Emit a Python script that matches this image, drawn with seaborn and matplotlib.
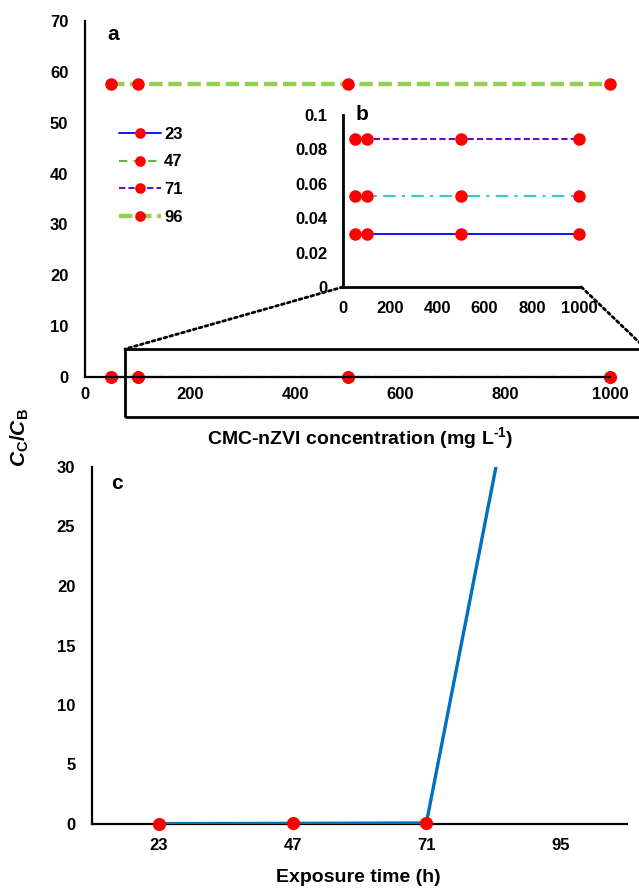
import numpy as np
import pandas as pd
import matplotlib
matplotlib.use("Agg")
import matplotlib.pyplot as plt
import seaborn as sns
from matplotlib.patches import Rectangle, ConnectionPatch

# ---------------- data ----------------
conc = [50, 100, 500, 1000]                 # CMC-nZVI concentration (mg L-1)
s23 = [0.031, 0.031, 0.031, 0.031]
s47 = [0.053, 0.053, 0.053, 0.053]
s71 = [0.086, 0.086, 0.086, 0.086]
s96 = [57.6, 57.6, 57.6, 57.6]
series_labels = ["23", "47", "71", "96"]

a_yticks = [0, 10, 20, 30, 40, 50, 60, 70]
a_xticks = [0, 200, 400, 600, 800, 1000]
b_yticks = [0, 0.02, 0.04, 0.06, 0.08, 0.1]
b_yticklabels = ["0", "0.02", "0.04", "0.06", "0.08", "0.1"]

times = ["23", "47", "71", "95"]            # exposure time (h)
cc_cb = [0.031, 0.053, 0.086, 57.6]
c_yticks = [0, 5, 10, 15, 20, 25, 30]

# ---------------- style ----------------
sns.set_style("white")
plt.rcParams["font.family"] = ["Liberation Sans", "DejaVu Sans"]
plt.rcParams["font.weight"] = "bold"
plt.rcParams["text.color"] = "black"
plt.rcParams["axes.labelcolor"] = "black"
plt.rcParams["xtick.color"] = "black"
plt.rcParams["ytick.color"] = "black"
plt.rcParams["mathtext.fontset"] = "custom"
plt.rcParams["mathtext.rm"] = "Liberation Sans:bold"
plt.rcParams["mathtext.it"] = "Liberation Sans:italic:bold"
plt.rcParams["mathtext.bf"] = "Liberation Sans:bold"

W, H = 639, 893
fig = plt.figure(figsize=(W / 100, H / 100), dpi=100)

def frac(left, top, right, bottom):
    return [left / W, 1 - bottom / H, (right - left) / W, (bottom - top) / H]

RED = "#FF0000"
TICK_FS = 12
mk = dict(marker="o", markersize=9, markerfacecolor=RED, markeredgecolor=RED,
          markeredgewidth=0)

styles = {
    "23": dict(color="#0000FF", lw=1.3, linestyle="-"),
    "47": dict(color="#70AD47", lw=1.5, linestyle=(0, (4, 3))),
    "71": dict(color="#6B0AC9", lw=1.5, linestyle=(0, (3, 1.5))),
    "96": dict(color="#92D050", lw=3.2, linestyle=(0, (3, 1.3))),
}

def style_axes(ax, lw=1.6):
    for s in ["top", "right"]:
        ax.spines[s].set_visible(False)
    for s in ["left", "bottom"]:
        ax.spines[s].set_color("black")
        ax.spines[s].set_linewidth(lw)
    ax.tick_params(length=0, colors="black")
    for t in ax.get_xticklabels() + ax.get_yticklabels():
        t.set_fontweight("bold")
        t.set_color("black")

# ---------------- panel a ----------------
ax_a = fig.add_axes(frac(85, 21, 610, 377))
df_a = pd.DataFrame({"conc": conc * 4,
                     "val": s23 + s47 + s71 + s96,
                     "series": sum([[l] * 4 for l in series_labels], [])})
for lab in series_labels:
    sub = df_a[df_a["series"] == lab]
    sns.lineplot(data=sub, x="conc", y="val", ax=ax_a, label=lab,
                 clip_on=False, **styles[lab], **mk)
ax_a.set_xlim(0, 1000)
ax_a.set_ylim(0, 70)
ax_a.set_xticks(a_xticks)
ax_a.set_yticks(a_yticks)
ax_a.tick_params(axis="y", labelsize=TICK_FS, pad=12)
ax_a.tick_params(axis="x", labelsize=TICK_FS, pad=7)
ax_a.set_xlabel("")
ax_a.set_ylabel("")
style_axes(ax_a)
fig.text(113 / W, 1 - 35 / H, "a", fontsize=15, fontweight="bold",
         ha="center", va="center")

leg = ax_a.legend(loc="upper left", bbox_to_anchor=(119 / W, 1 - 127 / H),
                  bbox_transform=fig.transFigure, frameon=False,
                  fontsize=TICK_FS, handlelength=2.5, handletextpad=0.2,
                  labelspacing=0.75, borderpad=0, borderaxespad=0,
                  markerscale=0.85)
for t in leg.get_texts():
    t.set_fontweight("bold")
    t.set_color("black")

# zoom rectangle (in panel-a data coordinates)
rect = Rectangle((76, -7.8), 1069 - 76, 13.3, transform=ax_a.transData,
                 fill=False, lw=2, ec="black", clip_on=False, zorder=10)
ax_a.add_patch(rect)

# ---------------- panel b (inset) ----------------
ax_b = fig.add_axes(frac(343, 115, 579, 287))
ax_b.patch.set_alpha(0)
b_styles = {
    "23": dict(color="#0000FF", lw=1.3, linestyle="-"),
    "47": dict(color="#33CCCC", lw=1.5, linestyle=(0, (6, 3, 1.5, 3))),
    "71": dict(color="#6B0AC9", lw=1.5, linestyle=(0, (3, 1.5))),
}
for lab, vals in zip(["23", "47", "71"], [s23, s47, s71]):
    sns.lineplot(x=conc, y=vals, ax=ax_b, clip_on=False, legend=False,
                 **b_styles[lab], **mk)
ax_b.set_xlim(0, 1000)
ax_b.set_ylim(0, 0.1)
ax_b.set_xticks(a_xticks)
ax_b.set_yticks(b_yticks)
ax_b.set_yticklabels(b_yticklabels)
ax_b.tick_params(axis="y", labelsize=TICK_FS, pad=11)
ax_b.tick_params(axis="x", labelsize=TICK_FS, pad=10)
style_axes(ax_b, lw=2)
fig.text(362 / W, 1 - 114 / H, "b", fontsize=15, fontweight="bold",
         ha="center", va="center")

# dotted connector lines
for xyA, xyB in [((0, 0), (76, 5.5)), ((1010, 0), (1069, 5.5))]:
    con = ConnectionPatch(xyA=xyA, coordsA=ax_b.transData,
                          xyB=xyB, coordsB=ax_a.transData,
                          linestyle=(0, (1, 1.2)), lw=2, color="black")
    fig.add_artist(con)

fig.text(360 / W, 1 - 438 / H, r"CMC-nZVI concentration (mg L$^{\text{-1}}$)",
         fontsize=14, fontweight="bold", ha="center", va="center")

# ---------------- panel c ----------------
ax_c = fig.add_axes(frac(92, 467, 627, 824))
df_c = pd.DataFrame({"time": times, "val": cc_cb})
sns.lineplot(data=df_c, x="time", y="val", ax=ax_c, color="#0070C0", lw=2.4,
             sort=False, zorder=3)
pts = df_c[df_c["val"] <= 30]
sns.scatterplot(data=pts, x="time", y="val", ax=ax_c, color=RED, s=90,
                edgecolor=RED, linewidth=0, clip_on=False, zorder=5)
ax_c.set_xlim(-0.5, 3.5)
ax_c.set_ylim(0, 30)
ax_c.set_yticks(c_yticks)
ax_c.tick_params(axis="y", labelsize=TICK_FS, pad=12)
ax_c.tick_params(axis="x", labelsize=TICK_FS, pad=10)
ax_c.set_xlabel("")
ax_c.set_ylabel("")
style_axes(ax_c)
fig.text(117 / W, 1 - 483 / H, "c", fontsize=15, fontweight="bold",
         ha="center", va="center")
fig.text(358 / W, 1 - 877 / H, "Exposure time (h)", fontsize=14,
         fontweight="bold", ha="center", va="center")

# shared y label
fig.text(20 / W, 1 - 438 / H, r"$C_{\mathrm{C}}/C_{\mathrm{B}}$", fontsize=15,
         rotation=90, ha="center", va="center")

fig.savefig("out.png", dpi=100)
